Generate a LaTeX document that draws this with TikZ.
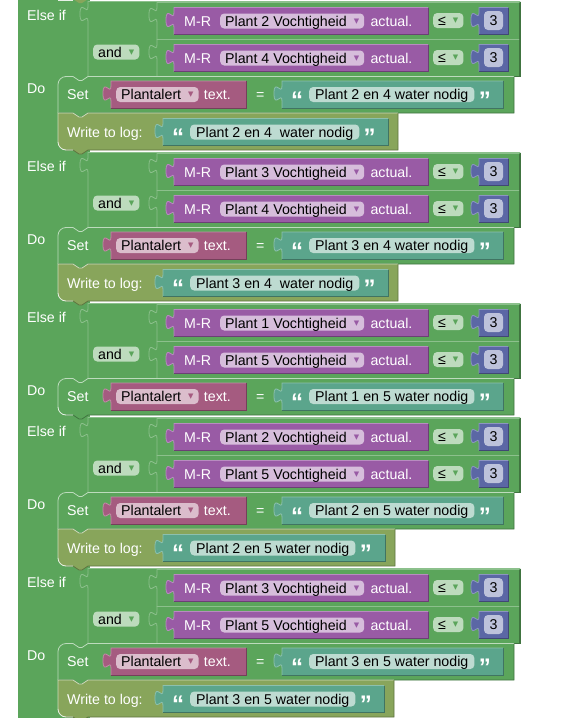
\documentclass[tikz,border=0pt]{standalone}
\usepackage{fontspec}
\setmainfont{Liberation Sans}
\newfontfamily\dvfont{DejaVu Sans}
\usetikzlibrary{positioning}
\definecolor{blkgreen}{HTML}{5BA55B}
\definecolor{blkolive}{HTML}{88A55B}
\definecolor{blkpurple}{HTML}{995BA5}
\definecolor{blkmagenta}{HTML}{A55B80}
\definecolor{blkteal}{HTML}{5BA58C}
\definecolor{blkblue}{HTML}{5B67A5}
\newcommand{\blkfont}{\fontsize{14.2}{16}\selectfont}
\newcommand{\ddarrow}[1]{\hspace{7pt}\raisebox{3pt}{\dvfont\fontsize{7}{7}\selectfont\textcolor{#1}{▼}}\hspace{3pt}}
\tikzset{
  lbl/.style={text=white,anchor=west,inner sep=0pt,text height=10pt,text depth=0pt,font=\blkfont},
  field/.style={rounded corners=4pt,anchor=west,inner xsep=5pt,inner ysep=0pt,minimum height=15pt,text height=10pt,text depth=0pt,text=black,font=\blkfont},
  ddfield/.style={field,fill=#1!40!white},
  txtfield/.style={field,inner xsep=6pt,fill=blkteal!40!white},
  numfield/.style={field,anchor=center,inner xsep=0pt,minimum width=19pt,minimum height=19pt,fill=blkblue!40!white},
  quot/.style={text=white,inner sep=0pt,text height=27pt,text depth=0pt,font=\fontsize{24}{24}\selectfont\bfseries},
}
% value block with output tab: colour, left, top, right, bottom
\newcommand{\valblk}[5]{%
  \fill[#1] (#2,#3) -- (#4,#3) -- (#4,#5) -- (#2,#5) -- (#2,#3+20)
    .. controls (#2,#3+10) and (#2-8,#3+28) .. (#2-8,#3+12.5)
    .. controls (#2-8,#3-3) and (#2,#3+15) .. (#2,#3+5) -- cycle;
  \draw[#1!70!white,line width=0.8pt] (#2,#5) -- (#2,#3+20)
    .. controls (#2,#3+10) and (#2-8,#3+28) .. (#2-8,#3+12.5)
    .. controls (#2-8,#3-3) and (#2,#3+15) .. (#2,#3+5) -- (#2,#3) -- (#4,#3);
  \draw[#1!70!black,line width=0.8pt] (#4,#3) -- (#4,#5) -- (#2,#5);}
% statement block: colour, left, top, right, bottom, top radius, bottom radius
\newcommand{\stmblk}[7]{%
  \fill[#1] (#2,#3+#6) .. controls (#2,#3+0.45*#6) and (#2+0.45*#6,#3) .. (#2+#6,#3)
    -- (#2+15,#3) -- (#2+21,#3+4) -- (#2+24,#3+4) -- (#2+30,#3) -- (#4,#3) -- (#4,#5)
    -- (#2+30,#5) -- (#2+24,#5+4) -- (#2+21,#5+4) -- (#2+15,#5) -- (#2+#7,#5)
    .. controls (#2+0.45*#7,#5) and (#2,#5-0.45*#7) .. (#2,#5-#7) -- cycle;
  \draw[#1!40!white,line width=0.8pt] (#2,#5-#7) -- (#2,#3+#6)
    .. controls (#2,#3+0.45*#6) and (#2+0.45*#6,#3) .. (#2+#6,#3)
    -- (#2+15,#3) -- (#2+21,#3+4) -- (#2+24,#3+4) -- (#2+30,#3) -- (#4,#3);
  \draw[#1!70!black,line width=0.8pt] (#4,#3) -- (#4,#5) -- (#2+30,#5) -- (#2+24,#5+4)
    -- (#2+21,#5+4) -- (#2+15,#5) -- (#2+#7,#5);
  \ifdim#7pt>0pt
    \draw[white!85!#1,line width=0.8pt] (#2,#5-#7) .. controls (#2,#5-0.45*#7) and (#2+0.45*#7,#5) .. (#2+#7,#5) -- (#2+15,#5);
  \fi}
% one comparison row: id, row centre, plant
\newcommand{\cmprow}[3]{%
  \valblk{blkgreen}{157}{#2-18.5}{519}{#2+18.5}
  \valblk{blkpurple}{174}{#2-13.5}{428}{#2+13.5}
  \node[lbl] (mr#1) at (184,#2) {M-R};
  \node[ddfield=blkpurple] (sensor#1) at (220,#2) {Plant #3 Vochtigheid\ddarrow{blkpurple}};
  \node[lbl,right=6pt of sensor#1] (actual#1) {actual.};
  \node[ddfield=blkgreen] (cmp#1) at (433,#2-0.5) {≤\ddarrow{blkgreen}};
  \valblk{blkblue}{479}{#2-13.5}{508}{#2+13.5}
  \node[numfield] (num#1) at (493.5,#2-0.5) {3};}
% else-if header with and-block: id, centre of first row, plant A, plant B
\newcommand{\condrows}[4]{%
  \valblk{blkgreen}{88}{#2-19.5}{520}{#2+55.5}
  \node[lbl] (elseif#1) at (27,#2-6) {Else if};
  \node[lbl] (do#1) at (27,#2+67) {Do};
  \node[ddfield=blkgreen] (and#1) at (93,#2+31) {and\ddarrow{blkgreen}};
  \cmprow{#1a}{#2}{#3}
  \cmprow{#1b}{#2+37}{#4}}
% set statement: id, centre of first row, text, bottom radius
\newcommand{\setstmt}[4]{%
  \stmblk{blkgreen}{58}{#2+55.5}{514}{#2+92}{8}{#4}
  \node[lbl] (set#1) at (67,#2+73.5) {Set};
  \valblk{blkmagenta}{111}{#2+60}{246}{#2+87}
  \node[ddfield=blkmagenta] (var#1) at (116,#2+73.5) {Plantalert\ddarrow{blkmagenta}};
  \node[lbl,right=5pt of var#1] (prop#1) {text.};
  \node[lbl] (eq#1) at (256,#2+73.5) {=};
  \valblk{blkteal}{282}{#2+60}{503}{#2+87}
  \node[quot] (lq#1) at (297,#2+73.5) {“};
  \node[txtfield] (msg#1) at (309,#2+73.5) {#3};
  \node[quot,right=4pt of msg#1] (rq#1) {”};}
% write-to-log statement: id, centre of first row, text, right edge
\newcommand{\logstmt}[4]{%
  \stmblk{blkolive}{58}{#2+92}{#4}{#2+129}{0}{8}
  \node[lbl] (write#1) at (67,#2+111) {Write to log:};
  \valblk{blkteal}{163}{#2+97.5}{#4-10}{#2+124.5}
  \node[quot] (lql#1) at (178,#2+111) {“};
  \node[txtfield] (log#1) at (190,#2+111) {#3};
  \node[quot,right=4pt of log#1] (rql#1) {”};}

\begin{document}
\begin{tikzpicture}[x=1pt,y=-1pt]
  \useasboundingbox (0,0) rectangle (563,718);
  % body of the if-block
  \fill[blkgreen] (18,0) rectangle (90,718);
  \fill[blkolive] (73,-1) -- (88,-1) -- (82,3) -- (79,3) -- cycle;
  \draw[white!85!blkgreen,line width=0.8pt] (58,0.5) -- (73,0.5);

  \condrows{1}{21}{2}{4}
  \setstmt{1}{21}{Plant 2 en 4 water nodig}{0}
  \logstmt{1}{21}{Plant 2 en 4\ \ water nodig}{398}

  \condrows{2}{172}{3}{4}
  \setstmt{2}{172}{Plant 3 en 4 water nodig}{0}
  \logstmt{2}{172}{Plant 3 en 4\ \ water nodig}{398}

  \condrows{3}{323}{1}{5}
  \setstmt{3}{323}{Plant 1 en 5 water nodig}{8}

  \condrows{4}{437}{2}{5}
  \setstmt{4}{437}{Plant 2 en 5 water nodig}{0}
  \logstmt{4}{437}{Plant 2 en 5 water nodig}{395}

  \condrows{5}{588}{3}{5}
  \setstmt{5}{588}{Plant 3 en 5 water nodig}{0}
  \logstmt{5}{588}{Plant 3 en 5 water nodig}{394}
\end{tikzpicture}
\end{document}
